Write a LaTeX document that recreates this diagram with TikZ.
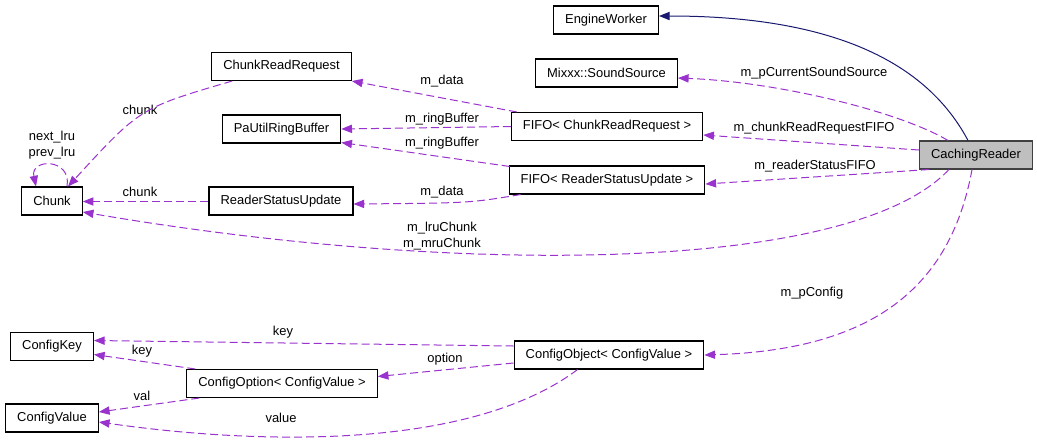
\documentclass[tikz,border=0pt]{standalone}
\usepackage{fontspec}
\setmainfont{Liberation Sans}
\usepackage{tikz}
\usetikzlibrary{arrows.meta,calc}
\definecolor{dep}{HTML}{9A32CD}
\definecolor{inh}{HTML}{191970}
\tikzstyle{cls}=[draw=black,line width=0.8pt,fill=white,minimum height=21pt,inner xsep=8.7pt,inner ysep=0pt]
\tikzstyle{lbl}=[inner sep=0pt,align=center]
\tikzstyle{dep} = [draw=dep,line width=0.75pt,dash pattern=on 6pt off 3pt,-{Triangle[length=8pt,width=6.2pt,fill=dep]}]

\begin{document}
\begin{tikzpicture}[x=0.75pt,y=-0.75pt,font=\fontsize{9.7}{12.3}\selectfont]
      \tikzset{inh/.style = {draw=inh,line width=0.75pt,-{Triangle[length=8pt,width=6.2pt,fill=inh]}}}
      \useasboundingbox (0,0) rectangle (1037,440);
      \node[cls,fill=black!25,draw=black!75] (cr) at (976,155) {CachingReader};
      \node[cls] (ew) at (606,20) {EngineWorker};
      \node[cls] (mss) at (606.5,73) {Mixxx::SoundSource};
      \node[cls] (fcrr) at (607,126.5) {FIFO< ChunkReadRequest >};
      \node[cls] (frsu) at (607,180) {FIFO< ReaderStatusUpdate >};
      \node[cls] (crr) at (281.5,66.5) {ChunkReadRequest};
      \node[cls] (prb) at (281.5,129) {PaUtilRingBuffer};
      \node[cls] (rsu) at (281,201) {ReaderStatusUpdate};
      \node[cls] (chunk) at (52,201) {Chunk};
      \node[cls] (cobj) at (609,355) {ConfigObject< ConfigValue >};
      \node[cls] (copt) at (282,383.5) {ConfigOption< ConfigValue >};
      \node[cls] (ckey) at (52,346.5) {ConfigKey};
      \node[cls] (cval) at (52,418) {ConfigValue};
      % labels
      \node[lbl] (lsrc) at (814,73) {m\_pCurrentSoundSource};
      \node[lbl] (lcrf) at (814,128) {m\_chunkReadRequestFIFO};
      \node[lbl] (lrsf) at (815,166) {m\_readerStatusFIFO};
      \node[lbl] (ldata1) at (442,81) {m\_data};
      \node[lbl] (lrb1) at (442,119) {m\_ringBuffer};
      \node[lbl] (lrb2) at (442,143) {m\_ringBuffer};
      \node[lbl] (ldata2) at (442,192) {m\_data};
      \node[lbl] (lchunk1) at (140,110) {chunk};
      \node[lbl] (lchunk2) at (140,192) {chunk};
      \node[lbl] (llru) at (52,145) {next\_lru\\prev\_lru};
      \node[lbl] (lmru) at (442,236) {m\_lruChunk\\m\_mruChunk};
      \node[lbl] (lcfg) at (812,293) {m\_pConfig};
      \node[lbl] (lkey1) at (283,332) {key};
      \node[lbl] (lkey2) at (142,351) {key};
      \node[lbl] (lopt) at (445,359) {option};
      \node[lbl] (lval) at (142,396) {val};
      \node[lbl] (lvalue) at (281,418) {value};
      % connectors
      \draw[inh] ($(cr.north)+(-8,0)$) .. controls (920,50) and (810,16) .. ($(ew.east)+(0,-4)$);
      \draw[dep] ($(cr.north)+(-28,0)$) .. controls (900,112) and (780,82) .. ($(mss.east)+(0,5)$);
      \draw[dep] ($(cr.west)+(0,-5)$) -- ($(fcrr.east)+(0,8.5)$);
      \draw[dep] ($(cr.south west)+(10,0)$) -- ($(frsu.east)+(0,4)$);
      \draw[dep] ($(cr.south west)+(30,0)$) .. controls (850,275) and (450,275) .. ($(chunk.east)+(0,11)$);
      \draw[dep] ($(cr.south)+(-4,0)$) .. controls (950,290) and (870,350) .. (cobj.east);
      \draw[dep] ($(fcrr.north west)+(6,0)$) -- (crr.south east);
      \draw[dep] (fcrr.west) -- (prb.east);
      \draw[dep] ($(frsu.north west)+(1,1)$) -- ($(prb.south east)+(0,-1)$);
      \draw[dep] ($(frsu.south west)+(12,0)$) .. controls (470,203) .. ($(rsu.east)+(0,3)$);
      \draw[dep] ($(crr.south west)+(21,0)$) .. controls (140,108) .. ($(chunk.north)+(16,0)$);
      \draw[dep] ($(rsu.west)+(0,0.5)$) -- ($(chunk.east)+(0,0.5)$);
      \draw[dep] ($(chunk.north)+(15,0)$) .. controls (72,158) and (30,158) .. ($(chunk.north)+(-16,0)$);
      \draw[dep] ($(cobj.west)+(0,-9)$) -- ($(ckey.east)+(0,-6)$);
      \draw[dep] ($(cobj.west)+(0,8)$) -- ($(copt.east)+(0,-7)$);
      \draw[dep] ($(cobj.south west)+(64,0)$) .. controls (470,450) and (260,445) .. ($(cval.east)+(0,4)$);
      \draw[dep] ($(copt.north west)+(9,0)$) -- ($(ckey.east)+(0,8)$);
      \draw[dep] ($(copt.south west)+(13,0)$) -- ($(cval.east)+(0,-6)$);
\end{tikzpicture}
\end{document}
